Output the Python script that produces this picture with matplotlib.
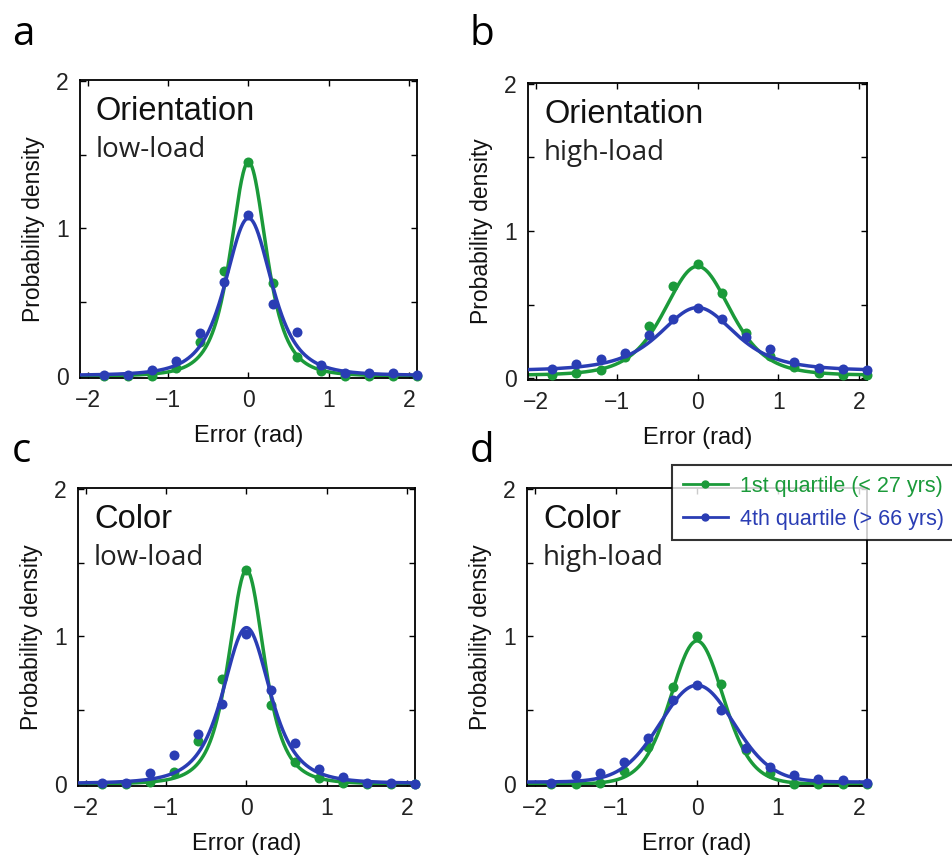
import numpy as np
import matplotlib
matplotlib.use("Agg")
import matplotlib.pyplot as plt
from matplotlib.ticker import MultipleLocator, FuncFormatter
from matplotlib.lines import Line2D

# ---------------- data ----------------
error_bins = [-1.8, -1.5, -1.2, -0.9, -0.6, -0.3, 0.0, 0.3, 0.6, 0.9, 1.2, 1.5, 1.8, 2.1]

panel_letters = ["a", "b", "c", "d"]
feature_names = ["Orientation", "Orientation", "Color", "Color"]
load_names = ["low-load", "high-load", "low-load", "high-load"]
series_names = ["1st quartile (< 27 yrs)", "4th quartile (> 66 yrs)"]

# observed densities, 1st quartile (young)
young_a = [0.0, 0.0, 0.0, 0.057, 0.23, 0.71, 1.45, 0.63, 0.13, 0.034, 0.0, 0.0, 0.0, 0.0]
young_b = [0.023, 0.034, 0.056, 0.147, 0.357, 0.626, 0.775, 0.576, 0.31, 0.151, 0.079, 0.038, 0.02, 0.02]
young_c = [0.0, 0.0, 0.016, 0.082, 0.29, 0.71, 1.45, 0.535, 0.152, 0.045, 0.01, 0.0, 0.0, 0.0]
young_d = [0.0, 0.0, 0.007, 0.087, 0.25, 0.66, 1.0, 0.675, 0.235, 0.075, 0.0, 0.0, 0.0, 0.0]
# observed densities, 4th quartile (old)
old_a = [0.01, 0.01, 0.04, 0.10, 0.29, 0.64, 1.09, 0.49, 0.30, 0.075, 0.02, 0.02, 0.02, 0.01]
old_b = [0.061, 0.10, 0.129, 0.174, 0.294, 0.40, 0.475, 0.40, 0.282, 0.197, 0.113, 0.072, 0.063, 0.056]
old_c = [0.011, 0.005, 0.073, 0.197, 0.34, 0.54, 1.02, 0.64, 0.28, 0.10, 0.05, 0.005, 0.005, 0.0]
old_d = [0.007, 0.06, 0.075, 0.15, 0.31, 0.57, 0.67, 0.50, 0.247, 0.114, 0.06, 0.037, 0.03, 0.007]

# fitted-curve parameters: peak, width, shape (nu), baseline
young_fit_peak = [1.45, 0.76, 1.45, 0.97]
young_fit_width = [0.235, 0.4225, 0.235, 0.334]
young_fit_nu = [3, 5, 3, 10]
young_fit_base = [0.0, 0.02, 0.0, 0.0]
old_fit_peak = [1.07, 0.48, 1.06, 0.67]
old_fit_width = [0.305, 0.494, 0.31, 0.46]
old_fit_nu = [3, 3, 3, 30]
old_fit_base = [0.005, 0.05, 0.005, 0.015]

young_obs = [young_a, young_b, young_c, young_d]
old_obs = [old_a, old_b, old_c, old_d]

# ---------------- style ----------------
GREEN = "#1b9a3a"
BLUE = "#2a3db4"
W, H = 953, 858

plt.rcParams["font.family"] = ["Liberation Sans", "DejaVu Sans"]

fig = plt.figure(figsize=(W / 100, H / 100), dpi=100)

# axes boxes in pixels: left, top, right, bottom
boxes = [(80, 80, 417, 378), (528, 83, 867, 380), (78, 488, 415, 786), (527, 488, 867, 786)]
letter_pos = [(12, 45), (470, 45), (12, 462), (470, 462)]


def fit_curve(x, peak, width, nu, base):
    return base + (peak - base) * (1 + x ** 2 / (nu * width ** 2)) ** (-(nu + 1) / 2)


xs = np.linspace(-2.1, 2.1, 600)

for i in range(4):
    l, t, r, b = boxes[i]
    ax = fig.add_axes([l / W, 1 - b / H, (r - l) / W, (b - t) / H])
    # curves
    ax.plot(xs, fit_curve(xs, young_fit_peak[i], young_fit_width[i], young_fit_nu[i], young_fit_base[i]),
            color=GREEN, lw=2.5, zorder=2)
    ax.plot(error_bins, young_obs[i], "o", color=GREEN, ms=7.2, mec="none", zorder=3, clip_on=False)
    ax.plot(xs, fit_curve(xs, old_fit_peak[i], old_fit_width[i], old_fit_nu[i], old_fit_base[i]),
            color=BLUE, lw=2.5, zorder=4)
    ax.plot(error_bins, old_obs[i], "o", color=BLUE, ms=7.2, mec="none", zorder=5, clip_on=False)

    ax.set_xlim(-2.1, 2.1)
    ax.set_ylim(-0.012, 2.005)
    ax.xaxis.set_major_locator(MultipleLocator(1))
    ax.yaxis.set_major_locator(MultipleLocator(0.5))
    ax.yaxis.set_major_formatter(FuncFormatter(lambda v, p: f"{int(round(v))}" if abs(v - round(v)) < 1e-6 else ""))
    ax.tick_params(direction="in", top=True, right=True, length=4, width=1.0, labelsize=16.5, pad=8,
                   labelcolor="#222222")
    for s in ax.spines.values():
        s.set_linewidth(1.3)
        s.set_color("black")
    ax.set_xlabel("Error (rad)", fontsize=17, labelpad=9, color="#111111")
    ax.set_ylabel("Probability density", fontsize=16.5, labelpad=8, color="#111111")

    ax.annotate(feature_names[i], xy=(0, 1), xycoords="axes fraction", xytext=(16, -40),
                textcoords="offset pixels", fontsize=23.5, va="baseline", ha="left", color="#111111")
    ax.annotate(load_names[i], xy=(0, 1), xycoords="axes fraction", xytext=(16, -77),
                textcoords="offset pixels", fontsize=20, va="baseline", ha="left", color="#222222",
                family=["Open Sans", "DejaVu Sans"])

    lx, ly = letter_pos[i]
    fig.text(lx / W, 1 - ly / H, panel_letters[i], fontsize=29, va="baseline", ha="left",
             family=["Open Sans", "DejaVu Sans"], color="black")

handles = [Line2D([], [], color=GREEN, lw=2, marker="o", ms=5),
           Line2D([], [], color=BLUE, lw=2, marker="o", ms=5)]
leg = fig.legend(handles, series_names, loc="upper left", bbox_to_anchor=(672 / W, 1 - 465 / H),
                 fontsize=15.5, frameon=True, fancybox=False, borderpad=0.5, handlelength=2.1,
                 handletextpad=0.55, labelspacing=0.55, borderaxespad=0)
leg.get_frame().set_edgecolor("black")
leg.get_frame().set_linewidth(1.5)
leg.get_texts()[0].set_color(GREEN)
leg.get_texts()[1].set_color(BLUE)
leg.set_zorder(10)

fig.savefig("out.png", dpi=100)
